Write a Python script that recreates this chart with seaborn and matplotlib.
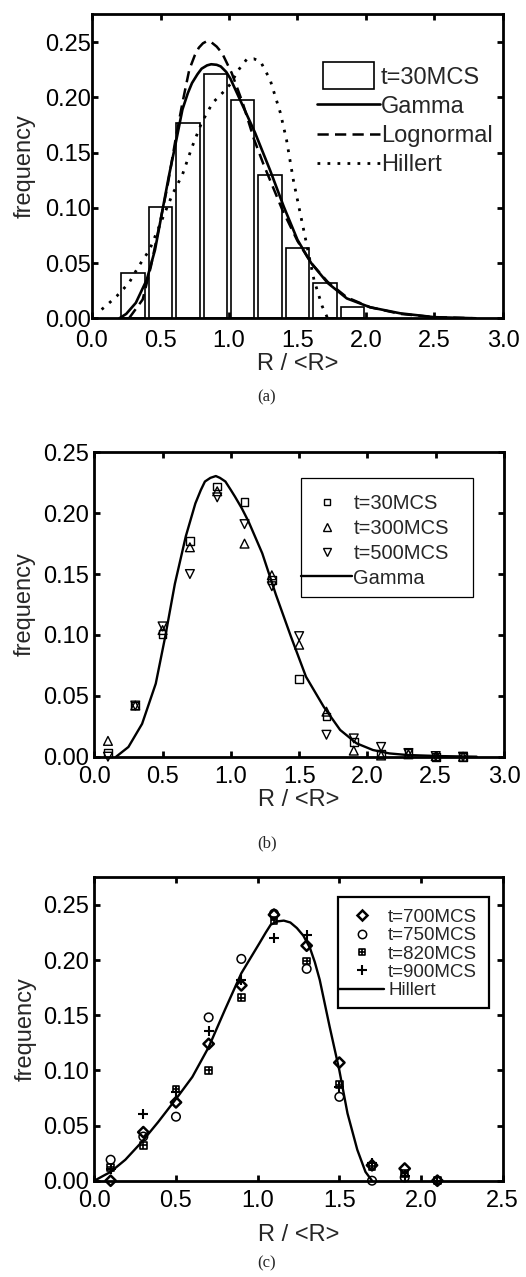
import numpy as np
import pandas as pd
import matplotlib
matplotlib.use("Agg")
import matplotlib.pyplot as plt
import seaborn as sns
from matplotlib.patches import Rectangle
from matplotlib.path import Path
from matplotlib.lines import Line2D
from matplotlib.legend_handler import HandlerPatch

# ---------------- panel (a) data ----------------
bin_centers_a = [0.3, 0.5, 0.7, 0.9, 1.1, 1.3, 1.5, 1.7, 1.9]
freq_30_a = [0.041, 0.101, 0.177, 0.221, 0.198, 0.130, 0.064, 0.032, 0.010]

gamma_a_x = [0.20, 0.25, 0.32, 0.40, 0.46, 0.51, 0.56, 0.61, 0.66, 0.70, 0.73, 0.77,
             0.80, 0.84, 0.87, 0.91, 0.94, 0.98, 1.01, 1.08, 1.19, 1.30, 1.40, 1.50,
             1.60, 1.72, 1.86, 2.03, 2.25, 2.50, 2.80]
gamma_a_y = [0.000, 0.004, 0.014, 0.035, 0.062, 0.095, 0.128, 0.158, 0.189, 0.204,
             0.213, 0.221, 0.226, 0.229, 0.230, 0.2295, 0.228, 0.223, 0.217, 0.198,
             0.168, 0.134, 0.101, 0.071, 0.050, 0.032, 0.018, 0.010, 0.0045, 0.001,
             0.000]

logn_a_x = [0.27, 0.37, 0.43, 0.49, 0.55, 0.61, 0.66, 0.71, 0.75, 0.78, 0.81, 0.84,
            0.87, 0.91, 0.95, 1.02, 1.10, 1.18, 1.25, 1.39, 1.50, 1.60, 1.72, 1.86,
            2.03, 2.25, 2.50, 2.80]
logn_a_y = [0.000, 0.017, 0.047, 0.083, 0.119, 0.162, 0.195, 0.225, 0.238, 0.245,
            0.249, 0.251, 0.250, 0.246, 0.240, 0.222, 0.195, 0.163, 0.140, 0.098,
            0.070, 0.050, 0.033, 0.019, 0.010, 0.004, 0.001, 0.000]

hill_a_x = [0.07, 0.10, 0.18, 0.27, 0.34, 0.42, 0.51, 0.59, 0.66, 0.73, 0.80, 0.88, 0.96,
            1.01, 1.07, 1.13, 1.18, 1.23, 1.30, 1.375, 1.42, 1.47, 1.52, 1.57, 1.62,
            1.68, 1.72]
hill_a_y = [0.008, 0.011, 0.020, 0.032, 0.047, 0.062, 0.089, 0.113, 0.130, 0.155, 0.177,
            0.195, 0.205, 0.212, 0.225, 0.2346, 0.235, 0.2325, 0.216, 0.186, 0.1615,
            0.125, 0.095, 0.065, 0.035, 0.011, 0.000]

# ---------------- panel (b) data ----------------
r_b = [0.1, 0.3, 0.5, 0.7, 0.9, 1.1, 1.3, 1.5, 1.7, 1.9, 2.1, 2.3, 2.5, 2.7]
f_t30_b = [0.003, 0.042, 0.101, 0.177, 0.222, 0.209, 0.145, 0.064, 0.033, 0.012,
           0.002, 0.003, 0.000, 0.000]
f_t300_b = [0.013, 0.042, 0.104, 0.172, 0.218, 0.175, 0.149, 0.092, 0.037, 0.005,
            0.001, 0.002, 0.0005, 0.000]
f_t500_b = [0.000, 0.042, 0.107, 0.150, 0.213, 0.191, 0.140, 0.099, 0.018, 0.015,
            0.008, 0.003, 0.0005, 0.000]

gamma_b_x = [0.16, 0.25, 0.35, 0.45, 0.52, 0.59, 0.67, 0.74, 0.78, 0.81, 0.85, 0.89,
             0.92, 0.96, 1.00, 1.03, 1.08, 1.13, 1.23, 1.33, 1.44, 1.55, 1.68, 1.80,
             1.92, 2.04, 2.16, 2.29, 2.53, 2.80]
gamma_b_y = [0.000, 0.008, 0.027, 0.060, 0.099, 0.142, 0.181, 0.208, 0.219, 0.226,
             0.229, 0.2305, 0.229, 0.226, 0.219, 0.2136, 0.204, 0.193, 0.167, 0.133,
             0.0986, 0.0657, 0.041, 0.022, 0.011, 0.0055, 0.0027, 0.0014, 0.0005, 0.000]

# ---------------- panel (c) data ----------------
r_c = [0.1, 0.3, 0.5, 0.7, 0.9, 1.1, 1.3, 1.5, 1.7, 1.9, 2.1]
f_t700_c = [0.000, 0.044, 0.071, 0.124, 0.177, 0.241, 0.213, 0.107, 0.014, 0.011, 0.000]
f_t750_c = [0.019, 0.040, 0.058, 0.148, 0.201, 0.242, 0.192, 0.076, 0.000, 0.003, 0.000]
f_t820_c = [0.012, 0.032, 0.083, 0.100, 0.166, 0.236, 0.199, 0.087, 0.013, 0.0066, 0.000]
f_t900_c = [0.011, 0.060, 0.080, 0.136, 0.182, 0.220, 0.223, 0.085, 0.016, 0.004, 0.000]

hill_c_x = [0.0, 0.10, 0.19, 0.29, 0.39, 0.51, 0.60, 0.70, 0.80, 0.90, 1.01, 1.05, 1.08,
            1.12, 1.16, 1.20, 1.24, 1.28, 1.32, 1.35, 1.38, 1.44, 1.50, 1.55, 1.61,
            1.66, 1.70]
hill_c_y = [0.000, 0.008, 0.019, 0.035, 0.053, 0.076, 0.094, 0.121, 0.155, 0.188, 0.215,
            0.225, 0.232, 0.235, 0.2357, 0.234, 0.229, 0.222, 0.211, 0.198, 0.182,
            0.140, 0.100, 0.061, 0.028, 0.008, 0.000]

xticks_a = [0.0, 0.5, 1.0, 1.5, 2.0, 2.5, 3.0]
xticks_c = [0.0, 0.5, 1.0, 1.5, 2.0, 2.5]
yticks = [0.00, 0.05, 0.10, 0.15, 0.20, 0.25]

# ---------------- style ----------------
sns.set_theme(style="ticks")
plt.rcParams['font.family'] = ['Liberation Sans', 'DejaVu Sans']
plt.rcParams['axes.linewidth'] = 2.0

W, H = 526, 1277
fig = plt.figure(figsize=(W / 100, H / 100), dpi=100)


def axes_px(left, right, top, bottom):
    return fig.add_axes([left / W, 1 - bottom / H, (right - left) / W, (bottom - top) / H])


ax_a = axes_px(92, 503, 14, 318.3)
ax_b = axes_px(94.3, 504, 452.3, 756.7)
ax_c = axes_px(94.3, 502.7, 876.7, 1180.7)

TICK_FS = 17


def style_axes(ax, xlim, ylim, xt, xpad, ypad, ylab_x, xlab_y):
    ax.set_xlim(*xlim)
    ax.set_ylim(*ylim)
    ax.set_xticks(xt)
    ax.set_xticklabels([f"{v:.1f}" for v in xt])
    ax.set_yticks(yticks)
    ax.set_yticklabels([f"{v:.2f}" for v in yticks])
    ax.tick_params(axis='both', direction='in', length=4.5, width=2.0,
                   top=True, right=True, labelsize=TICK_FS, colors='black')
    ax.tick_params(axis='x', pad=xpad)
    ax.tick_params(axis='y', pad=ypad)
    for s in ax.spines.values():
        s.set_linewidth(2.0)
        s.set_color('black')
        s.set_zorder(5)
    ax.set_xlabel("R / <R>", fontsize=TICK_FS)
    ax.set_ylabel("frequency", fontsize=TICK_FS)
    ax.xaxis.set_label_coords(0.5, xlab_y)
    ax.xaxis.label.set_va('top')
    ax.yaxis.set_label_coords(ylab_x, 0.5)
    ax.set_facecolor('white')


# ================= panel (a) =================
edges_a = [c - 0.1 for c in bin_centers_a] + [bin_centers_a[-1] + 0.1]
sns.histplot(x=bin_centers_a, weights=freq_30_a, bins=edges_a, shrink=0.86,
             ax=ax_a, color='white', edgecolor='black', linewidth=1.2, alpha=1.0,
             zorder=1)
sns.lineplot(x=gamma_a_x, y=gamma_a_y, ax=ax_a, color='black', lw=1.9,
             estimator=None, sort=False, zorder=3)
sns.lineplot(x=logn_a_x, y=logn_a_y, ax=ax_a, color='black', lw=1.8,
             linestyle=(0, (4.5, 2.5)), estimator=None, sort=False, zorder=3)
sns.lineplot(x=hill_a_x, y=hill_a_y, ax=ax_a, color='black', lw=2.0,
             linestyle=(0, (1, 2.6)), estimator=None, sort=False, zorder=3)
style_axes(ax_a, (0, 3.0), (0, 0.2755), xticks_a, xpad=8.5, ypad=1.0,
           ylab_x=-0.137, xlab_y=-0.113)


def patch_func(legend, orig_handle, xdescent, ydescent, width, height, fontsize):
    return Rectangle((-xdescent + 0.095 * width, -ydescent - 0.3 * height),
                     0.81 * width, 1.6 * height)


h_a = [Rectangle((0, 0), 1, 1, facecolor='white', edgecolor='black', lw=1.2),
       Line2D([], [], color='black', lw=1.9),
       Line2D([], [], color='black', lw=1.8, linestyle=(0, (4.5, 2.5))),
       Line2D([], [], color='black', lw=2.0, linestyle=(0, (1, 2.6)))]
ax_a.legend(h_a, ["t=30MCS", "Gamma", "Lognormal", "Hillert"],
            loc='upper left', bbox_to_anchor=(0.547, 0.827), frameon=False,
            fontsize=17, handlelength=2.67, handletextpad=0.05, borderpad=0,
            borderaxespad=0, labelspacing=0.30,
            handler_map={Rectangle: HandlerPatch(patch_func=patch_func)})

# ================= panel (b) =================
sns.lineplot(x=gamma_b_x, y=gamma_b_y, ax=ax_b, color='black', lw=1.7,
             estimator=None, sort=False, zorder=2)
sns.scatterplot(x=r_b, y=f_t30_b, ax=ax_b, marker='s', s=30, facecolor='none',
                edgecolor='black', linewidth=1.0, clip_on=False, zorder=4)
sns.scatterplot(x=r_b, y=f_t300_b, ax=ax_b, marker='^', s=40, facecolor='none',
                edgecolor='black', linewidth=1.0, clip_on=False, zorder=4)
sns.scatterplot(x=r_b, y=f_t500_b, ax=ax_b, marker='v', s=40, facecolor='none',
                edgecolor='black', linewidth=1.0, clip_on=False, zorder=4)
style_axes(ax_b, (0, 3.0), (0, 0.25), xticks_a, xpad=7.0, ypad=3.5,
           ylab_x=-0.142, xlab_y=-0.105)

h_b = [Line2D([], [], ls='none', marker='s', ms=5, mfc='none', mec='black', mew=1.0),
       Line2D([], [], ls='none', marker='^', ms=6, mfc='none', mec='black', mew=1.0),
       Line2D([], [], ls='none', marker='v', ms=6, mfc='none', mec='black', mew=1.0),
       Line2D([], [], color='black', lw=1.7)]
ax_b.legend(h_b, ["t=30MCS", "t=300MCS", "t=500MCS", "Gamma"],
            loc='upper left', bbox_to_anchor=(0.5045, 0.862), frameon=False,
            fontsize=14.5, handlelength=2.55, handletextpad=0.05, borderpad=0,
            borderaxespad=0, labelspacing=0.285)
ax_b.add_patch(Rectangle((0.5045, 0.5246), 0.4195, 0.391, transform=ax_b.transAxes,
                         fill=False, edgecolor='black', lw=0.9, zorder=6,
                         clip_on=False))

# ================= panel (c) =================
sq_plus = Path([(-1, -1), (1, -1), (1, 1), (-1, 1), (-1, -1),
                (0, -1), (0, 1), (-1, 0), (1, 0)],
               [Path.MOVETO, Path.LINETO, Path.LINETO, Path.LINETO, Path.CLOSEPOLY,
                Path.MOVETO, Path.LINETO, Path.MOVETO, Path.LINETO])

sns.lineplot(x=hill_c_x, y=hill_c_y, ax=ax_c, color='black', lw=1.7,
             estimator=None, sort=False, zorder=2)
sns.scatterplot(x=r_c, y=f_t700_c, ax=ax_c, marker='D', s=28, facecolor='none',
                edgecolor='black', linewidth=1.8, clip_on=False, zorder=4)
sns.scatterplot(x=r_c, y=f_t750_c, ax=ax_c, marker='o', s=38, facecolor='none',
                edgecolor='black', linewidth=1.1, clip_on=False, zorder=4)
sns.scatterplot(x=r_c, y=f_t820_c, ax=ax_c, marker=sq_plus, s=22, facecolor='none',
                edgecolor='black', linewidth=1.2, clip_on=False, zorder=4)
sns.scatterplot(x=r_c, y=f_t900_c, ax=ax_c, marker='+', s=45, color='black',
                linewidth=1.5, clip_on=False, zorder=4)
style_axes(ax_c, (0, 2.5), (0, 0.2755), xticks_c, xpad=7.0, ypad=4.0,
           ylab_x=-0.142, xlab_y=-0.142)

h_c = [Line2D([], [], ls='none', marker='D', ms=5, mfc='none', mec='black', mew=1.8),
       Line2D([], [], ls='none', marker='o', ms=6, mfc='none', mec='black', mew=1.1),
       Line2D([], [], ls='none', marker=sq_plus, ms=5, mfc='none', mec='black', mew=1.2),
       Line2D([], [], ls='none', marker='+', ms=7, color='black', mew=1.5),
       Line2D([], [], color='black', lw=1.7)]
ax_c.legend(h_c, ["t=700MCS", "t=750MCS", "t=820MCS", "t=900MCS", "Hillert"],
            loc='upper left', bbox_to_anchor=(0.60, 0.895), frameon=False,
            fontsize=13.5, handlelength=2.4, handletextpad=0.2, borderpad=0,
            borderaxespad=0, labelspacing=0.07)
ax_c.add_patch(Rectangle((0.597, 0.568), 0.37, 0.365, transform=ax_c.transAxes,
                         fill=False, edgecolor='black', lw=1.6, zorder=6,
                         clip_on=False))

# ================= captions =================
for label, ypx in [("(a)", 397), ("(b)", 843), ("(c)", 1263)]:
    fig.text(267 / W, 1 - ypx / H, label, ha='center', va='center',
             fontsize=12, family=['Liberation Serif', 'DejaVu Serif'])

fig.savefig("out.png", dpi=100, facecolor='white')
